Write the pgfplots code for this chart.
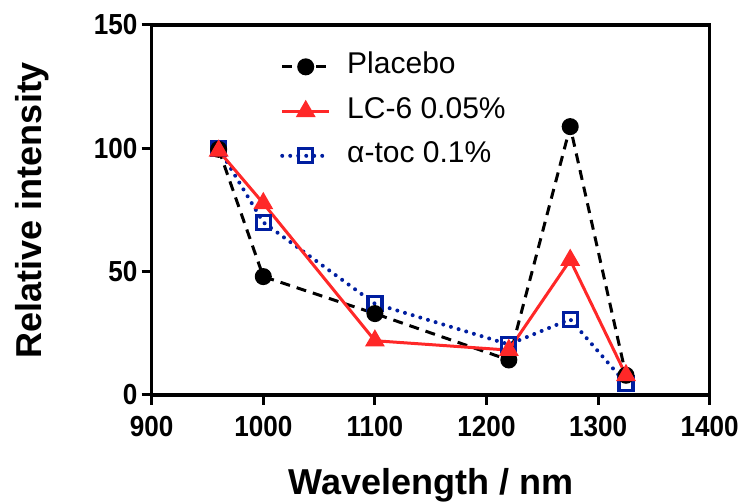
\documentclass[border=0pt]{standalone}
\usepackage{fontspec}
\setmainfont{Liberation Sans}
\newfontfamily\tickfont[FakeStretch=0.9]{Liberation Sans}
\usepackage{pgfplots}
\pgfplotsset{compat=1.18}
\definecolor{myred}{RGB}{255,40,40}
\definecolor{myblue}{RGB}{0,30,160}
\begin{document}
\begin{tikzpicture}
\begin{axis}[
  name=ax,
  at={(0,0)}, anchor=south west,
  scale only axis, width=558pt, height=370pt,
  xmin=900, xmax=1400, ymin=0, ymax=150,
  xtick={900,1000,1100,1200,1300,1400},
  ytick={0,50,100,150},
  axis line style={line width=3.2pt},
  every tick/.style={black, line width=3pt},
  major tick length=10pt,
  tick align=outside,
  xtick pos=bottom, ytick pos=left,
  /pgf/number format/assume math mode=true,
  /pgf/number format/1000 sep={},
  ticklabel style={font=\tickfont\bfseries\fontsize{29}{29}\selectfont},
  xticklabel style={inner sep=0pt, yshift=-11pt},
  yticklabel style={inner sep=0pt, xshift=-4pt},
  xlabel={Wavelength / nm},
  ylabel={Relative intensity},
  xlabel style={font=\bfseries\fontsize{36}{36}\selectfont, at={(axis description cs:0.5,-0.268)}, anchor=base},
  ylabel style={font=\bfseries\fontsize{36}{36}\selectfont, at={(axis description cs:-0.197,0.5)}, anchor=base, rotate=0},
  legend style={draw=none, fill=none, at={(axis description cs:0.23,0.928)}, anchor=north west,
    font=\fontsize{30}{30}\selectfont, inner sep=0pt, row sep=14.5pt, column sep=16pt,
    nodes={inner sep=0pt, text height=22pt, text depth=8pt}},
  legend cell align=left,
  legend image code/.code={\draw[mark repeat=2,mark phase=2,#1] plot coordinates {(0pt,0pt) (23.5pt,0pt) (47pt,0pt)};},
]
\addlegendimage{black, line width=3pt, dash pattern=on 10pt off 7pt, mark=*, mark size=7pt, mark options={solid}}
\addlegendentry{Placebo}
\addlegendimage{myred, line width=3pt, mark=triangle*, mark size=8.5pt, mark options={solid}}
\addlegendentry{LC-6 0.05\%}
\addlegendimage{myblue, line width=4pt, line cap=round, dash pattern=on 0pt off 8pt, mark=square, mark size=7pt, mark options={solid, line width=3.2pt, fill=white}}
\addlegendentry{α-toc 0.1\%}

\addplot[forget plot, myblue, line width=4pt, line cap=round, dash pattern=on 0pt off 8pt, mark=square, mark size=7pt, mark options={solid, line width=3.2pt, fill=white}]
 coordinates {(960,100) (1000,70) (1100,37) (1220,20.5) (1275,30.7) (1325,4.7)};
\addplot[forget plot, black, line width=3pt, dash pattern=on 10pt off 7pt, mark=*, mark size=7pt, mark options={solid}]
 coordinates {(960,99.6) (1000,48) (1100,33) (1220,14.2) (1275,108.8) (1325,8)};
\addplot[forget plot, myred, line width=3pt, mark=triangle*, mark size=8.5pt, mark options={solid}]
 coordinates {(960,99) (1000,77.7) (1100,22) (1220,18.2) (1275,54.7) (1325,8)};
\end{axis}
\pgfresetboundingbox
\path (-151.7pt,-107pt) rectangle (589.3pt,395pt);
\end{tikzpicture}
\end{document}
